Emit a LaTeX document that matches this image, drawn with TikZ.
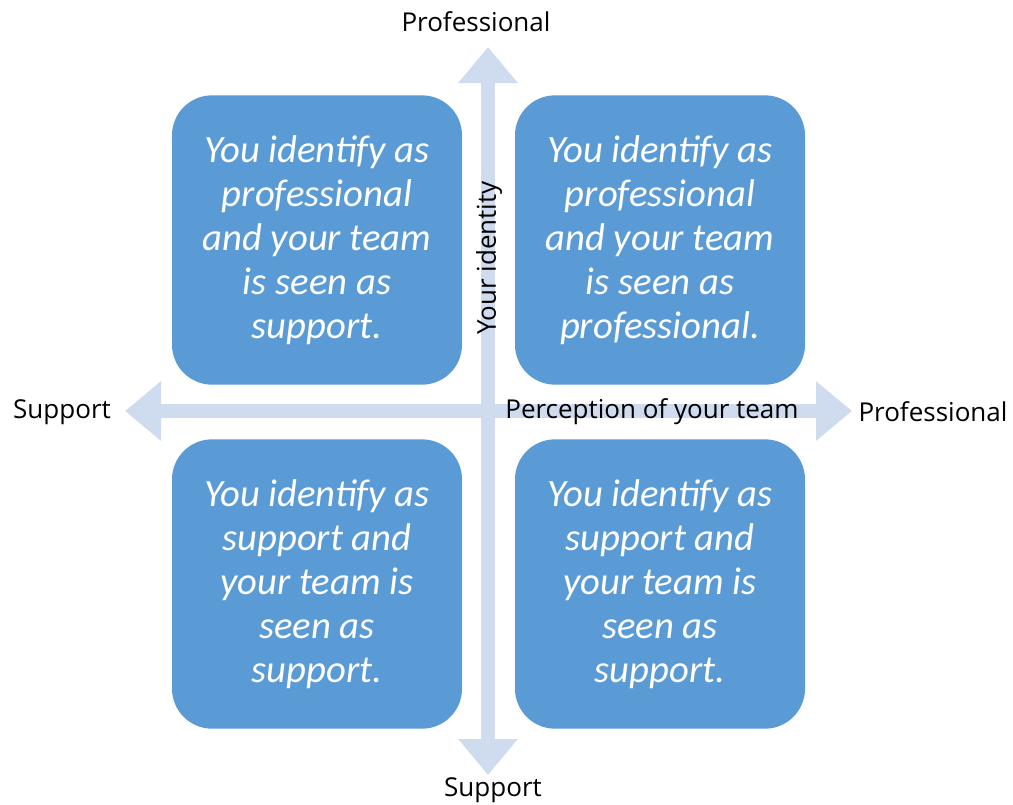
\documentclass[tikz,border=0pt]{standalone}
\usepackage{fontspec}
\setmainfont{Open Sans}
\newfontfamily\quadfont{Carlito}
\usetikzlibrary{arrows.meta}
\definecolor{quadblue}{RGB}{91,155,213}
\definecolor{axisblue}{RGB}{207,219,238}
\tikzset{font=\fontsize{19.5}{22}\selectfont}

\begin{document}
\begin{tikzpicture}[x=0.75pt,y=-0.75pt,every node/.style={inner sep=0pt},
    quad/.style={fill=quadblue,rounded corners=30pt,minimum width=217.5pt,minimum height=217pt,
      text=white,align=center,font=\quadfont\itshape\fontsize{29}{33}\selectfont},
    axis/.style={axisblue,line width=11pt,{Triangle[length=27pt,width=43pt]}-{Triangle[length=27pt,width=43pt]}}]
    \useasboundingbox (0,0) rectangle (1013,804);

    % axis end points
    \coordinate (ytop) at (488,47);
    \coordinate (ybot) at (488,775);
    \coordinate (xleft) at (125,411);
    \coordinate (xright) at (852,411);
    \draw[axis] (ybot) -- (ytop);
    \draw[axis] (xleft) -- (xright);

    % the four quadrants
    \node[quad] (q1) at (317,240) {You identify as\\professional\\and your team\\is seen as\\support.};
    \node[quad] (q2) at (660,240) {You identify as\\professional\\and your team\\is seen as\\professional.};
    \node[quad] (q3) at (317,584) {You identify as\\support and\\your team is\\seen as\\support.};
    \node[quad] (q4) at (660,584) {You identify as\\support and\\your team is\\seen as\\support.};

    \node (ypro) at (476,22) {Professional};
    \node (ysup) at (493,790) {Support};
    \node (xsup) at (62,412) {Support};
    \node (xpro) at (933,412) {Professional};
    \node (xname) at (652,412) {Perception of your team};
    \node[rotate=90] (yname) at (489,258) {Your identity};
\end{tikzpicture}
\end{document}
